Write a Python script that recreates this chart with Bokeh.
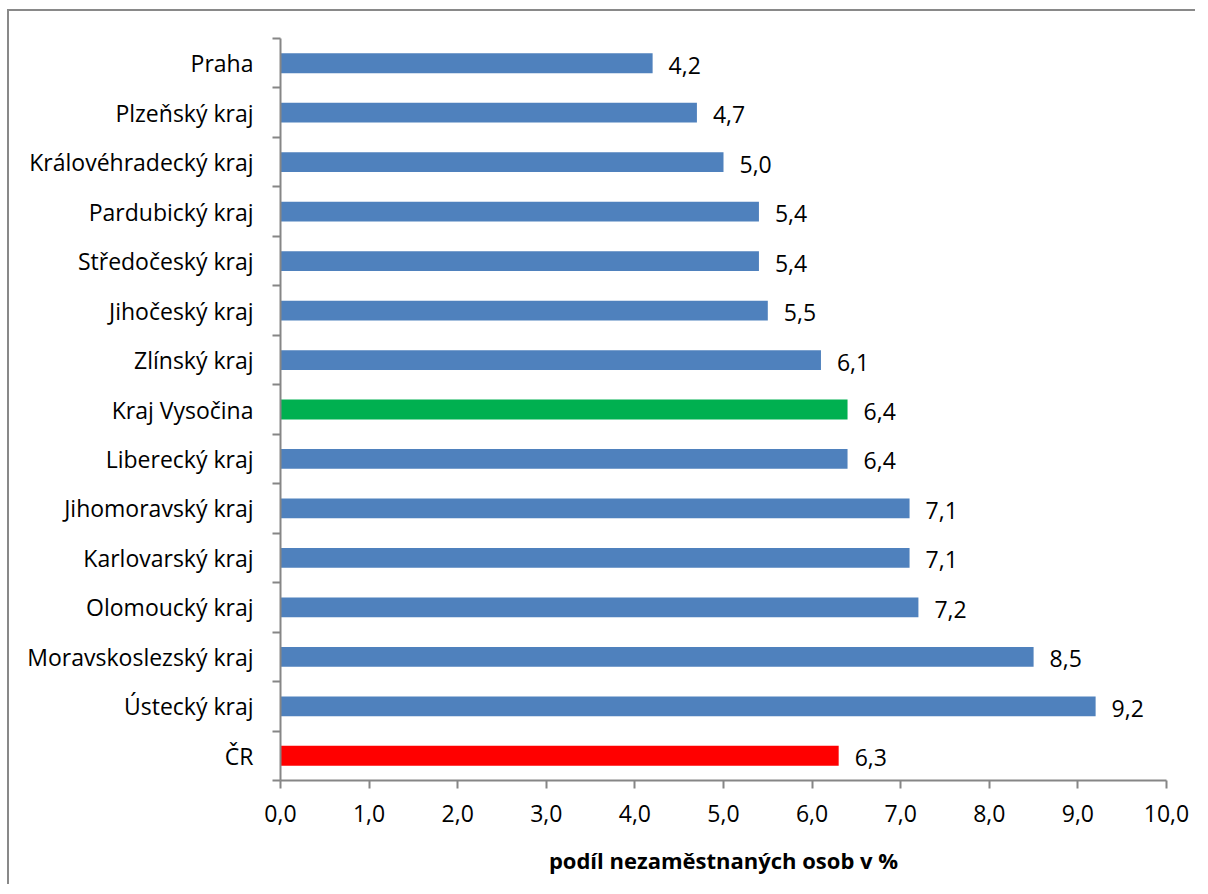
from bokeh.plotting import figure
from bokeh.models import ColumnDataSource, FixedTicker, Range1d
from bokeh.embed import file_html
from bokeh.resources import INLINE
from bokeh.core.properties import value

# ---- data (top to bottom as shown) ----
regions = ["Praha", "Plzeňský kraj", "Královéhradecký kraj", "Pardubický kraj",
           "Středočeský kraj", "Jihočeský kraj", "Zlínský kraj", "Kraj Vysočina",
           "Liberecký kraj", "Jihomoravský kraj", "Karlovarský kraj", "Olomoucký kraj",
           "Moravskoslezský kraj", "Ústecký kraj", "ČR"]
shares = [4.2, 4.7, 5.0, 5.4, 5.4, 5.5, 6.1, 6.4, 6.4, 7.1, 7.1, 7.2, 8.5, 9.2, 6.3]
x_ticks = [0, 1, 2, 3, 4, 5, 6, 7, 8, 9, 10]
x_title = "podíl nezaměstnaných osob v %"

# ---- styling ----
BLUE = "#4F81BD"
highlight = {"Kraj Vysočina": "#00B050", "ČR": "#FF0000"}
AX = "#868686"
FONT = "Open Sans"
n = len(regions)
ypos = [n - 1 - i + 0.5 for i in range(n)]
colors = [highlight.get(r, BLUE) for r in regions]
labels = [f"{v:.1f}".replace(".", ",") for v in shares]

src = ColumnDataSource(dict(y=ypos, v=shares, c=colors, lab=labels))

p = figure(width=1191, height=875, output_backend="svg", toolbar_location=None,
           x_range=Range1d(0, 10), y_range=Range1d(0, n),
           min_border_left=271, min_border_right=34, min_border_top=27,
           min_border_bottom=106)
p.styles = {"border-left": "2px solid #898989", "border-top": "2px solid #898989",
            "border-right": "none", "border-bottom": "none",
            "box-sizing": "border-box", "margin-left": "7px", "margin-top": "9px",
            "overflow": "hidden", "clip-path": "inset(0px 3px 0px 0px)"}
p.outline_line_color = None
p.grid.visible = False
p.background_fill_color = "white"
p.border_fill_color = "white"

p.hbar(y="y", right="v", left=0, height=0.4, color="c", source=src, line_color=None)
p.text(x="v", y="y", text="lab", source=src, x_offset=16, y_offset=2,
       text_align="left", text_baseline="middle",
       text_font=value(FONT), text_font_size="23px", text_color="black")

# x axis
xa = p.xaxis[0]
xa.ticker = FixedTicker(ticks=x_ticks, minor_ticks=[])
xa.major_label_overrides = {t: f"{t},0" for t in x_ticks}
xa.axis_line_color = AX
xa.axis_line_width = 2
xa.major_tick_line_color = AX
xa.major_tick_line_width = 2
xa.major_tick_in = 0
xa.major_tick_out = 8
xa.minor_tick_line_color = None
xa.major_label_text_font = FONT
xa.major_label_text_font_size = "23px"
xa.major_label_text_color = "black"
xa.major_label_standoff = 16
xa.axis_label = x_title
xa.axis_label_text_font = FONT
xa.axis_label_text_font_size = "22px"
xa.axis_label_text_font_style = "bold"
xa.axis_label_text_color = "black"
xa.axis_label_standoff = 20

# y axis: labels at centers, ticks at boundaries (minor)
ya = p.yaxis[0]
ya.ticker = FixedTicker(ticks=ypos, minor_ticks=list(range(n + 1)))
ya.major_label_overrides = {y: r for y, r in zip(ypos, regions)}
ya.axis_line_color = AX
ya.axis_line_width = 2
ya.major_tick_line_color = None
ya.major_tick_in = 0
ya.major_tick_out = 0
ya.minor_tick_line_color = AX
ya.minor_tick_line_width = 2
ya.minor_tick_in = 0
ya.minor_tick_out = 8
ya.major_label_text_font = FONT
ya.major_label_text_font_size = "23px"
ya.major_label_text_color = "black"
ya.major_label_standoff = 19

open("out.html", "w").write(file_html(p, INLINE))
